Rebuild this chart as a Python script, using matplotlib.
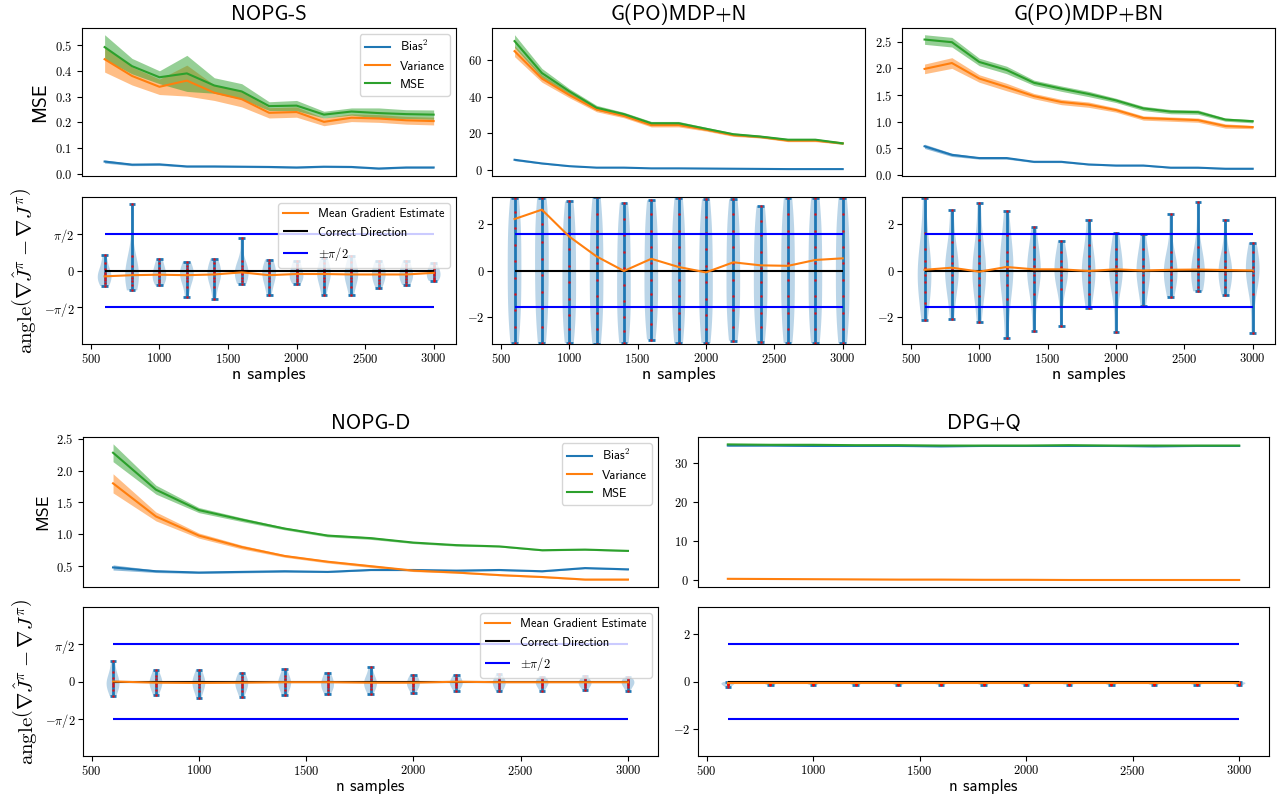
import numpy as np
import matplotlib
matplotlib.use('Agg')
import matplotlib.pyplot as plt
from matplotlib.ticker import FuncFormatter, MultipleLocator

plt.rcParams['mathtext.fontset'] = 'cm'
plt.rcParams['font.family'] = 'cmss10'
plt.rcParams['axes.unicode_minus'] = False

n_samples = [600, 800, 1000, 1200, 1400, 1600, 1800, 2000, 2200, 2400, 2600, 2800, 3000]

# ---- NOPG-S
nopgs_bias = [0.048, 0.036, 0.037, 0.029, 0.029, 0.028, 0.027, 0.025, 0.028, 0.027, 0.021, 0.025, 0.025]
nopgs_bias_err = [0.006, 0.004, 0.004, 0.003, 0.003, 0.003, 0.003, 0.003, 0.003, 0.003, 0.003, 0.003, 0.003]
nopgs_var = [0.445, 0.38, 0.338, 0.362, 0.315, 0.29, 0.237, 0.24, 0.202, 0.218, 0.215, 0.208, 0.205]
nopgs_var_err = [0.05, 0.035, 0.03, 0.06, 0.03, 0.03, 0.02, 0.02, 0.015, 0.015, 0.015, 0.015, 0.015]
nopgs_mse = [0.492, 0.418, 0.375, 0.39, 0.343, 0.32, 0.263, 0.265, 0.23, 0.242, 0.236, 0.232, 0.230]
nopgs_mse_err = [0.048, 0.03, 0.025, 0.07, 0.03, 0.03, 0.017, 0.02, 0.013, 0.014, 0.02, 0.017, 0.018]
nopgs_angles = [
    [0.65, 0.3, 0.05, -0.1, -0.2, -0.3, -0.4, -0.55, -0.66],
    [2.84, 0.6, 0.2, 0.0, -0.15, -0.3, -0.45, -0.6, -0.85],
    [0.5, 0.3, 0.1, -0.05, -0.15, -0.25, -0.4, -0.5, -0.64],
    [0.37, 0.2, 0.05, -0.1, -0.2, -0.3, -0.45, -0.7, -1.13],
    [0.51, 0.3, 0.1, -0.05, -0.15, -0.3, -0.45, -0.7, -1.2],
    [1.39, 0.4, 0.2, 0.05, -0.05, -0.15, -0.3, -0.45, -0.57],
    [0.47, 0.3, 0.1, -0.05, -0.15, -0.3, -0.45, -0.7, -1.06],
    [0.4, 0.25, 0.1, -0.05, -0.15, -0.25, -0.35, -0.45, -0.57],
    [0.52, 0.3, 0.1, -0.05, -0.15, -0.3, -0.45, -0.7, -1.06],
    [0.64, 0.35, 0.1, -0.05, -0.15, -0.3, -0.45, -0.7, -1.06],
    [0.42, 0.25, 0.1, -0.05, -0.15, -0.25, -0.4, -0.55, -0.74],
    [0.42, 0.25, 0.1, -0.05, -0.15, -0.25, -0.35, -0.5, -0.62],
    [0.33, 0.2, 0.05, -0.05, -0.1, -0.2, -0.3, -0.4, -0.45],
]
nopgs_mean = [-0.25, -0.2, -0.18, -0.2, -0.17, -0.08, -0.2, -0.15, -0.15, -0.17, -0.17, -0.17, -0.1]

# ---- G(PO)MDP+N
gn_bias = [5.5, 3.5, 2.0, 1.2, 1.2, 0.8, 0.8, 0.7, 0.6, 0.5, 0.4, 0.4, 0.4]
gn_bias_err = [0.5, 0.3, 0.2, 0.15, 0.15, 0.1, 0.1, 0.1, 0.1, 0.1, 0.1, 0.1, 0.1]
gn_var = [65, 50, 41, 33, 29.5, 24.5, 24.5, 22, 19, 18, 16, 16, 14.5]
gn_var_err = [3, 2, 1.5, 1.2, 1, 1, 1, 0.8, 0.7, 0.6, 0.6, 0.6, 0.5]
gn_mse = [70.5, 53, 43, 34, 30.5, 25.5, 25.5, 22.5, 19.5, 18.2, 16.5, 16.5, 14.5]
gn_mse_err = [3.5, 2.5, 1.5, 1.3, 1, 1, 1, 0.8, 0.7, 0.7, 0.6, 0.6, 0.6]
gn_angles = [
    [3.1, 2.5, 1.8, 1.1, 0.4, -0.3, -1.0, -1.7, -2.4, -3.1],
    [3.1, 2.6, 2.0, 1.2, 0.5, -0.2, -0.9, -1.6, -2.4, -3.1],
    [2.95, 2.3, 1.6, 0.9, 0.2, -0.5, -1.2, -1.9, -2.5, -3.1],
    [3.14, 2.4, 1.7, 1.0, 0.3, -0.4, -1.1, -1.8, -2.5, -3.14],
    [2.9, 2.2, 1.5, 0.8, 0.1, -0.6, -1.3, -2.0, -2.6, -3.1],
    [3.0, 2.4, 1.7, 1.0, 0.3, -0.4, -1.0, -1.7, -2.3, -2.95],
    [3.1, 2.4, 1.7, 1.0, 0.3, -0.4, -1.1, -1.8, -2.5, -3.1],
    [3.05, 2.3, 1.6, 0.9, 0.2, -0.5, -1.2, -1.9, -2.5, -3.1],
    [3.05, 2.4, 1.7, 1.0, 0.3, -0.4, -1.1, -1.7, -2.4, -3.0],
    [2.75, 2.1, 1.5, 0.8, 0.1, -0.5, -1.1, -1.8, -2.4, -3.05],
    [3.1, 2.4, 1.7, 1.0, 0.3, -0.4, -1.1, -1.8, -2.5, -3.1],
    [3.1, 2.4, 1.7, 1.0, 0.3, -0.4, -1.1, -1.8, -2.5, -3.1],
    [3.1, 2.4, 1.7, 1.0, 0.3, -0.4, -1.1, -1.8, -2.5, -3.1],
]
gn_mean = [2.2, 2.6, 1.45, 0.6, -0.02, 0.5, 0.15, -0.08, 0.35, 0.22, 0.2, 0.45, 0.52]

# ---- G(PO)MDP+BN
gbn_bias = [0.54, 0.38, 0.32, 0.32, 0.25, 0.25, 0.20, 0.18, 0.18, 0.14, 0.14, 0.12, 0.12]
gbn_bias_err = [0.04, 0.03, 0.02, 0.02, 0.015, 0.015, 0.01, 0.01, 0.01, 0.01, 0.01, 0.01, 0.01]
gbn_var = [1.99, 2.10, 1.81, 1.65, 1.48, 1.37, 1.32, 1.22, 1.07, 1.05, 1.03, 0.92, 0.90]
gbn_var_err = [0.09, 0.1, 0.07, 0.07, 0.05, 0.05, 0.05, 0.04, 0.04, 0.04, 0.04, 0.04, 0.03]
gbn_mse = [2.54, 2.49, 2.12, 1.97, 1.73, 1.62, 1.52, 1.40, 1.25, 1.19, 1.18, 1.04, 1.01]
gbn_mse_err = [0.09, 0.09, 0.07, 0.07, 0.05, 0.05, 0.05, 0.04, 0.04, 0.04, 0.04, 0.03, 0.03]
gbn_angles = [
    [3.1, 1.6, 0.9, 0.4, 0.1, -0.2, -0.5, -0.9, -1.4, -2.1],
    [2.58, 1.2, 0.6, 0.3, 0.05, -0.2, -0.5, -0.9, -2.07],
    [2.87, 1.3, 0.6, 0.3, 0.0, -0.3, -0.6, -1.1, -2.2],
    [2.54, 1.5, 0.8, 0.4, 0.1, -0.2, -0.6, -1.2, -2.88],
    [1.85, 1.0, 0.5, 0.2, 0.0, -0.2, -0.5, -1.0, -2.6],
    [1.28, 0.8, 0.4, 0.15, 0.0, -0.2, -0.4, -0.8, -2.38],
    [2.14, 1.1, 0.6, 0.2, 0.0, -0.2, -0.5, -1.0, -1.6],
    [1.6, 0.9, 0.5, 0.2, 0.0, -0.2, -0.5, -0.9, -2.64],
    [1.57, 0.9, 0.5, 0.2, 0.0, -0.2, -0.5, -0.9, -1.5],
    [2.4, 0.8, 0.4, 0.15, 0.0, -0.15, -0.4, -0.7, -1.13],
    [2.93, 1.0, 0.5, 0.2, 0.05, -0.15, -0.4, -0.7, -0.89],
    [2.16, 0.8, 0.4, 0.15, 0.0, -0.15, -0.4, -0.7, -1.03],
    [1.18, 0.8, 0.4, 0.15, 0.0, -0.2, -0.5, -1.0, -2.67],
]
gbn_mean = [0.03, 0.12, -0.05, 0.15, 0.05, 0.05, -0.02, 0.05, 0.0, 0.03, 0.04, 0.02, 0.0]

# ---- NOPG-D
nopgd_bias = [0.48, 0.42, 0.40, 0.41, 0.42, 0.41, 0.44, 0.44, 0.43, 0.44, 0.42, 0.47, 0.45]
nopgd_bias_err = [0.04, 0.02, 0.015, 0.015, 0.015, 0.01, 0.01, 0.01, 0.01, 0.01, 0.01, 0.01, 0.01]
nopgd_var = [1.80, 1.28, 0.98, 0.80, 0.66, 0.57, 0.50, 0.43, 0.40, 0.36, 0.33, 0.29, 0.29]
nopgd_var_err = [0.15, 0.07, 0.04, 0.03, 0.02, 0.02, 0.02, 0.015, 0.01, 0.01, 0.01, 0.01, 0.01]
nopgd_mse = [2.28, 1.70, 1.38, 1.23, 1.09, 0.98, 0.94, 0.87, 0.83, 0.81, 0.75, 0.76, 0.74]
nopgd_mse_err = [0.14, 0.07, 0.04, 0.03, 0.02, 0.02, 0.02, 0.015, 0.015, 0.01, 0.01, 0.01, 0.01]
nopgd_angles = [
    [0.85, 0.4, 0.15, 0.0, -0.1, -0.2, -0.35, -0.62],
    [0.5, 0.25, 0.1, 0.0, -0.1, -0.2, -0.35, -0.59],
    [0.5, 0.25, 0.1, -0.02, -0.12, -0.25, -0.4, -0.69],
    [0.37, 0.2, 0.05, -0.05, -0.15, -0.25, -0.4, -0.64],
    [0.51, 0.25, 0.1, 0.0, -0.1, -0.2, -0.35, -0.57],
    [0.37, 0.2, 0.05, -0.05, -0.15, -0.25, -0.35, -0.54],
    [0.61, 0.25, 0.1, 0.0, -0.1, -0.2, -0.3, -0.51],
    [0.28, 0.15, 0.05, -0.05, -0.12, -0.2, -0.3, -0.47],
    [0.28, 0.15, 0.05, -0.02, -0.1, -0.15, -0.25, -0.38],
    [0.3, 0.15, 0.05, -0.02, -0.1, -0.18, -0.28, -0.42],
    [0.2, 0.1, 0.03, -0.03, -0.1, -0.15, -0.25, -0.38],
    [0.25, 0.1, 0.03, -0.03, -0.1, -0.15, -0.22, -0.35],
    [0.18, 0.1, 0.02, -0.03, -0.1, -0.15, -0.25, -0.4],
]
nopgd_mean = [0.0, -0.05, -0.06, -0.05, -0.03, -0.03, -0.05, -0.05, -0.01, -0.03, -0.03, -0.03, -0.03]

# ---- DPG+Q
dpg_bias = [34.5, 34.5, 34.4, 34.4, 34.4, 34.3, 34.4, 34.4, 34.4, 34.4, 34.3, 34.4, 34.4]
dpg_bias_err = [0.1] * 13
dpg_var = [0.4, 0.35, 0.3, 0.25, 0.2, 0.2, 0.15, 0.15, 0.1, 0.1, 0.1, 0.1, 0.1]
dpg_var_err = [0.05] * 13
dpg_mse = [34.8, 34.7, 34.7, 34.6, 34.6, 34.5, 34.5, 34.5, 34.6, 34.5, 34.5, 34.5, 34.5]
dpg_mse_err = [0.15] * 13
dpg_angles = [
    [-0.02, -0.06, -0.09, -0.12, -0.16, -0.22],
    [-0.03, -0.05, -0.07, -0.09, -0.12, -0.15],
    [-0.03, -0.05, -0.07, -0.09, -0.12, -0.15],
    [-0.03, -0.05, -0.07, -0.09, -0.12, -0.15],
    [-0.03, -0.05, -0.07, -0.09, -0.12, -0.15],
    [-0.03, -0.05, -0.07, -0.09, -0.11, -0.14],
    [-0.03, -0.05, -0.07, -0.09, -0.12, -0.15],
    [-0.03, -0.05, -0.07, -0.09, -0.12, -0.15],
    [-0.03, -0.05, -0.07, -0.09, -0.11, -0.13],
    [-0.03, -0.05, -0.07, -0.09, -0.12, -0.15],
    [-0.03, -0.05, -0.07, -0.09, -0.12, -0.15],
    [-0.03, -0.05, -0.07, -0.09, -0.11, -0.13],
    [-0.03, -0.05, -0.07, -0.09, -0.12, -0.15],
]
dpg_mean = [-0.08] * 13

W, H = 1279, 798


def box(l, r, t, b):
    return [l / W, 1 - b / H, (r - l) / W, (b - t) / H]


def tex(fmt):
    return FuncFormatter(lambda v, p: '$' + (fmt % v) + '$')


def plot_mse(ax, bias, bias_err, var, var_err, mse, mse_err, fmt, step):
    for vals, err, label, c in [(bias, bias_err, 'Bias$^2$', 'C0'),
                                (var, var_err, 'Variance', 'C1'),
                                (mse, mse_err, 'MSE', 'C2')]:
        vals = np.array(vals)
        err = np.array(err)
        ax.plot(n_samples, vals, color=c, lw=1.5, label=label)
        ax.fill_between(n_samples, vals - err, vals + err, color=c, alpha=0.5, lw=0)
    ax.yaxis.set_major_locator(MultipleLocator(step))
    ax.yaxis.set_major_formatter(tex(fmt))
    ax.tick_params(axis='x', labelbottom=False, length=0)
    ax.tick_params(axis='y', labelsize=9)


def plot_angle(ax, samples, mean, pi_ticks, width, xfont):
    parts = ax.violinplot(samples, positions=n_samples, widths=width, showextrema=True)
    for b in parts['bodies']:
        b.set_facecolor('C0')
        b.set_edgecolor('none')
        b.set_alpha(0.3)
    for k in ('cbars', 'cmins', 'cmaxes'):
        parts[k].set_color('C0')
        parts[k].set_linewidth(2)
    for x, s in zip(n_samples, samples):
        ax.plot([x] * len(s), s, '.', color='red', ms=2, alpha=0.6)
    ax.plot(n_samples, mean, color='C1', lw=1.5, label='Mean Gradient Estimate', zorder=4)
    ax.hlines(0, 600, 3000, color='k', lw=1.5, label='Correct Direction', zorder=3)
    ax.hlines([np.pi / 2, -np.pi / 2], 600, 3000, color='b', lw=1.5, label=r'$\pm\pi/2$')
    ax.set_ylim(-np.pi, np.pi)
    if pi_ticks:
        ax.set_yticks([-np.pi / 2, 0, np.pi / 2])
        ax.set_yticklabels([r'$-\pi/2$', r'$0$', r'$\pi/2$'])
    else:
        ax.set_yticks([-2, 0, 2])
        ax.yaxis.set_major_formatter(tex('%d'))
    ax.set_xticks([500, 1000, 1500, 2000, 2500, 3000])
    ax.xaxis.set_major_formatter(tex('%d'))
    ax.tick_params(labelsize=9, pad=2)
    ax.set_xlabel('n samples', fontsize=xfont, labelpad=1)


angle_label = r'$\mathrm{angle}\left(\nabla\hat{J}^{\pi}-\nabla J^{\pi}\right)$'

fig = plt.figure(figsize=(12.79, 7.98), dpi=100)

panels = [
    ('NOPG-S', (82, 456), (28, 176, 197, 344), (435, 3163),
     (nopgs_bias, nopgs_bias_err, nopgs_var, nopgs_var_err, nopgs_mse, nopgs_mse_err), '%.1f', 0.1,
     nopgs_angles, nopgs_mean, True, True),
    ('G(PO)MDP+N', (492, 865), (28, 176, 197, 344), (435, 3163),
     (gn_bias, gn_bias_err, gn_var, gn_var_err, gn_mse, gn_mse_err), '%d', 20,
     gn_angles, gn_mean, False, False),
    ('G(PO)MDP+BN', (902, 1275), (28, 176, 197, 344), (435, 3163),
     (gbn_bias, gbn_bias_err, gbn_var, gbn_var_err, gbn_mse, gbn_mse_err), '%.1f', 0.5,
     gbn_angles, gbn_mean, False, False),
    ('NOPG-D', (83, 658), (437, 587, 607, 756), (460, 3140),
     (nopgd_bias, nopgd_bias_err, nopgd_var, nopgd_var_err, nopgd_mse, nopgd_mse_err), '%.1f', 0.5,
     nopgd_angles, nopgd_mean, True, True),
    ('DPG+Q', (698, 1269), (437, 587, 607, 756), (460, 3140),
     (dpg_bias, dpg_bias_err, dpg_var, dpg_var_err, dpg_mse, dpg_mse_err), '%d', 10,
     dpg_angles, dpg_mean, False, False),
]

for title, (l, r), (t1, b1, t2, b2), xlim, mse_data, fmt, step, angles, mean, pi_ticks, first in panels:
    top_row = t1 < 100
    ax1 = fig.add_axes(box(l, r, t1, b1))
    ax2 = fig.add_axes(box(l, r, t2, b2), sharex=ax1)
    plot_mse(ax1, *mse_data, fmt, step)
    plot_angle(ax2, angles, mean, pi_ticks, 100 if top_row else 60, 13 if top_row else 12)
    ax1.set_xlim(*xlim)
    ax1.set_title(title, fontsize=15)
    if first:
        ax1.set_ylabel('MSE', fontsize=14 if top_row else 13)
        ax2.set_ylabel(angle_label, fontsize=15)
        ax1.legend(loc='upper right', fontsize=9)
        ax2.legend(loc='upper right', fontsize=9)

fig.savefig('out.png', dpi=100)
